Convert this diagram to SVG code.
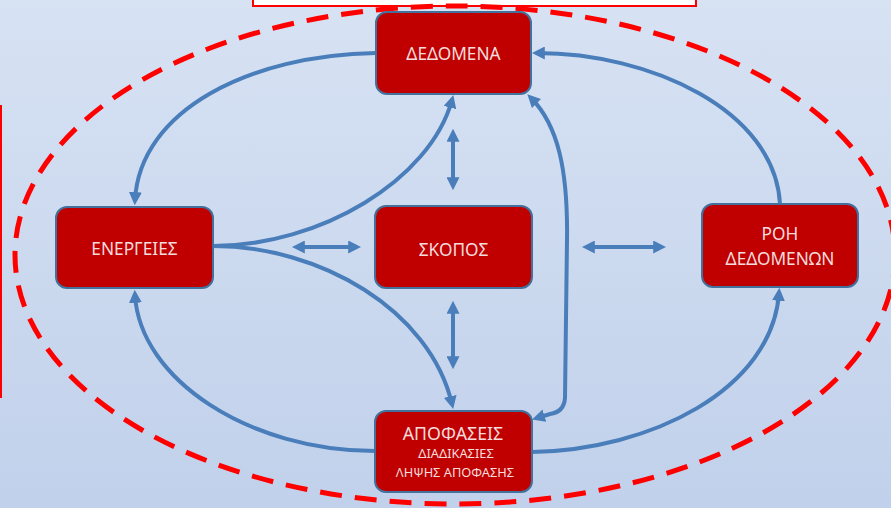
<svg xmlns="http://www.w3.org/2000/svg" width="891" height="508" viewBox="0 0 891 508">
  <defs>
    <linearGradient id="bg" x1="0" y1="0" x2="0" y2="1">
      <stop offset="0" stop-color="#d7e2f3"/>
      <stop offset="1" stop-color="#c1d1eb"/>
    </linearGradient>
    <marker id="arr" viewBox="0 0 10 10" refX="6" refY="5" markerUnits="userSpaceOnUse" markerWidth="13" markerHeight="13" orient="auto-start-reverse">
      <path d="M0,0 L10,5 L0,10 z" fill="#4a7ebb"/>
    </marker>
    <style>
      .node rect { fill: #c00000; stroke: #41719c; stroke-width: 2; }
      .node text { fill: #f4dcdc; font-family: "Noto Sans", "Open Sans", sans-serif; text-anchor: middle; }
      .t { font-size: 17.3px; }
      .conn path { fill: none; stroke: #4a7ebb; stroke-width: 4; }
    </style>
  </defs>
  <rect x="0" y="0" width="891" height="508" fill="url(#bg)"/>
  <rect x="253" y="-3" width="443" height="9" fill="#ffffff" stroke="#ff0000" stroke-width="2"/>
  <line x1="1" y1="105" x2="1" y2="398" stroke="#ff0000" stroke-width="2"/>
  <ellipse cx="455" cy="255" rx="440" ry="249" fill="none" stroke="#ff0000" stroke-width="5" stroke-dasharray="22 13"/>

  <g id="connectors" class="conn">
    <path d="M376,53 C 250,55 140,110 135,200" marker-end="url(#arr)"/>
    <path d="M780,204 C 775,110 650,53 537,53" marker-end="url(#arr)"/>
    <path d="M375,451 C 250,451 140,380 135,295" marker-end="url(#arr)"/>
    <path d="M532,452 C 650,450 772,390 779,293" marker-end="url(#arr)"/>
    <path d="M213,246 C 320,246 430,180 452,100" marker-end="url(#arr)"/>
    <path d="M213,246 C 320,246 430,310 452,404" marker-end="url(#arr)"/>
    <path d="M453,134 L453,185" marker-start="url(#arr)" marker-end="url(#arr)"/>
    <path d="M453,306 L453,364" marker-start="url(#arr)" marker-end="url(#arr)"/>
    <path d="M297,247 L356,247" marker-start="url(#arr)" marker-end="url(#arr)"/>
    <path d="M587,247 L661,247" marker-start="url(#arr)" marker-end="url(#arr)"/>
    <path d="M531,98 C 558,125 568,170 567,240 L 565,398 Q 564,412 550,414 L 537,418" marker-start="url(#arr)" marker-end="url(#arr)"/>
  </g>

  <g id="dedomena" class="node">
    <rect x="376" y="12" width="155" height="82" rx="11"/>
    <text class="t" x="453.5" y="60">ΔΕΔΟΜΕΝΑ</text>
  </g>
  <g id="energeies" class="node">
    <rect x="56" y="207" width="157" height="81" rx="11"/>
    <text class="t" x="134.5" y="255">ΕΝΕΡΓΕΙΕΣ</text>
  </g>
  <g id="skopos" class="node">
    <rect x="375" y="206" width="157" height="82" rx="11"/>
    <text class="t" x="453.5" y="256">ΣΚΟΠΟΣ</text>
  </g>
  <g id="roh" class="node">
    <rect x="702" y="204" width="156" height="83" rx="11"/>
    <text class="t" x="780" y="240">ΡΟΗ</text>
    <text class="t" x="780" y="265">ΔΕΔΟΜΕΝΩΝ</text>
  </g>
  <g id="apofaseis" class="node">
    <rect x="375" y="411" width="157" height="81" rx="11"/>
    <text x="453" y="440" style="font-size:17.8px">ΑΠΟΦΑΣΕΙΣ</text>
    <text x="456" y="458" style="font-size:12.8px">ΔΙΑΔΙΚΑΣΙΕΣ</text>
    <text x="455" y="477" style="font-size:12.8px">ΛΗΨΗΣ ΑΠΟΦΑΣΗΣ</text>
  </g>
</svg>
